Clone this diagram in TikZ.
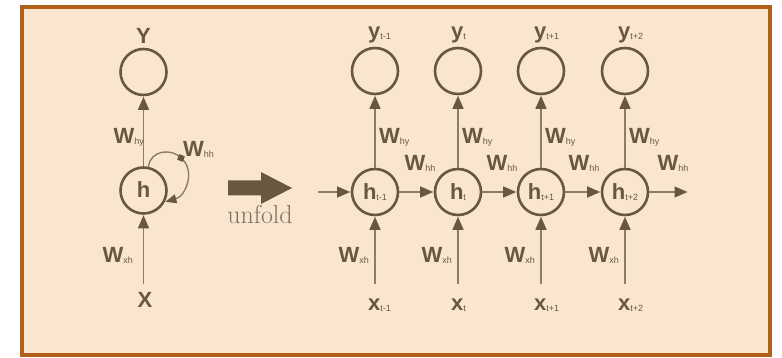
\documentclass[tikz,border=0pt]{standalone}
\usepackage{fontspec}
\usetikzlibrary{arrows.meta,calc}
\newfontfamily\sansf{Liberation Sans}
\definecolor{paper}{RGB}{250,230,208}
\definecolor{framec}{RGB}{176,96,24}
\definecolor{ink}{RGB}{104,88,66}
\definecolor{wire}{RGB}{140,125,104}

% bold letter with a small subscript set near its baseline
\newcommand\sym[2]{{\sansf\bfseries\fontsize{22}{22}\selectfont #1}\raisebox{-1pt}{\sansf\fontsize{9}{9}\selectfont #2}}

\tikzset{
  unit/.style={circle, draw=ink, line width=2.6pt, minimum size=46pt, inner sep=0pt, text=ink},
  txt/.style={inner sep=0pt, text=ink},
  conn/.style={draw=wire, line width=1.4pt, -{Triangle[length=13pt,width=11pt,color=ink]}, shorten >=0.5pt},
}

\begin{document}
\begin{tikzpicture}[x=1pt,y=-1pt]
\useasboundingbox (0,0) rectangle (782,358);
\fill[white] (0,0) rectangle (782,358);
\draw[framec, line width=3.2pt, fill=paper] (22,7) rectangle (770,355);

% folded network
\node[unit] (Y) at (143.5,72) {};
\node[unit] (h) at (143.5,190.5) {\sym{h}{}};
\node[txt] (Ylab) at (143.5,36) {\sym{Y}{}};
\node[txt] (X) at (145,300) {\sym{X}{}};
\coordinate (xin) at (143.5,284);
\draw[conn] (xin) -- (h);
\draw[conn] (h) -- (Y);
\node[txt, anchor=east] (wxh0) at (133,255) {\sym{W}{xh}};
\node[txt, anchor=east] (why0) at (144,137) {\sym{W}{hy}};
\node[txt, anchor=west] (whh0) at (183,149) {\sym{W}{hh}};
\coordinate (loopm) at (181,158);
\draw[wire, line width=1.4pt] (h.78) .. controls (150,150) and (172,148) .. (loopm);
\draw[conn, -{Triangle[length=11pt,width=9pt,color=ink]}] (loopm) .. controls (196,170) and (186,196) .. (h.-28);
\fill[ink, rotate around={-20:(loopm)}] ($(loopm)+(-3,-3)$) rectangle ($(loopm)+(3,3)$);

% unfold arrow
\fill[ink] (228,180.5) -- (261,180.5) -- (261,172) -- (292,188) -- (261,204) -- (261,195.5) -- (228,195.5) -- cycle;
\node[txt, text=ink!85] (unf) at (260,214) {\fontsize{26}{26}\selectfont unfold};

% unfolded network
\foreach \i/\x/\s in {1/375/{t-1}, 2/458/{t}, 3/541/{t+1}, 4/625/{t+2}} {
  \node[unit] (y\i) at (\x,71) {};
  \node[unit] (h\i) at (\x,192) {\sym{h}{\s}};
  \node[txt, anchor=west] (yl\i) at (\x-7,35) {\sym{y}{\s}};
  \node[txt, anchor=west] (xl\i) at (\x-7,305) {\sym{x}{\s}};
  \coordinate (xs\i) at (\x,284);
  \draw[conn] (xs\i) -- (h\i);
  \draw[conn] (h\i) -- (y\i);
  \node[txt, anchor=west] (why\i) at (\x+4,137) {\sym{W}{hy}};
  \node[txt, anchor=east] (wxh\i) at (\x-6,255) {\sym{W}{xh}};
}
\coordinate (hin) at (318,192);
\coordinate (hout) at (688,192);
\draw[conn] (hin) -- (h1);
\draw[conn] (h1) -- (h2);
\draw[conn] (h2) -- (h3);
\draw[conn] (h3) -- (h4);
\draw[conn] (h4) -- (hout);
\node[txt] (whh1) at (420,163) {\sym{W}{hh}};
\node[txt] (whh2) at (502,163) {\sym{W}{hh}};
\node[txt] (whh3) at (584,163) {\sym{W}{hh}};
\node[txt] (whh4) at (673,163) {\sym{W}{hh}};
\end{tikzpicture}
\end{document}
